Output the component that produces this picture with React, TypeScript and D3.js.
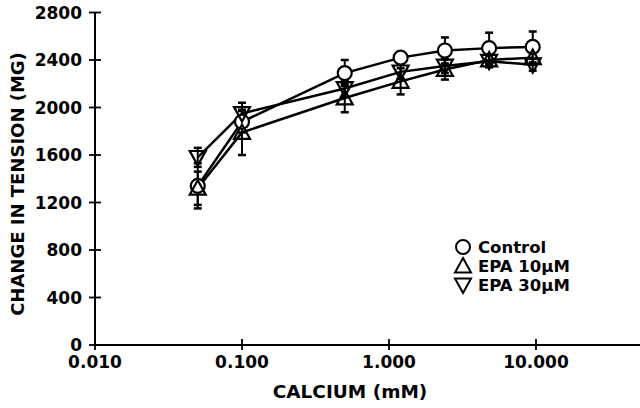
import * as d3 from 'd3'
import { useEffect, useRef } from 'react'

// calcium concentrations (mM) and mean tension (MG)
const calcium = [0.05, 0.1, 0.5, 1.2, 2.4, 4.8, 9.5]
const control = [1340, 1880, 2290, 2420, 2480, 2500, 2510]
const epa10 = [1320, 1790, 2080, 2220, 2320, 2400, 2420]
const epa30 = [1580, 1950, 2160, 2300, 2350, 2390, 2360]
// error bars (SEM)
const controlErr = [190, 90, 110, 40, 110, 130, 130]
const epa10Err = [140, 190, 120, 110, 85, 60, 60]
const epa30Err = [80, 90, 70, 60, 60, 50, 50]

const yTicks = [0, 400, 800, 1200, 1600, 2000, 2400, 2800]
const xTicks = [0.01, 0.1, 1, 10]

const series = [
  { name: 'Control', values: control, err: controlErr, shape: 'circle' },
  { name: 'EPA 10\u03bcM', values: epa10, err: epa10Err, shape: 'up' },
  { name: 'EPA 30\u03bcM', values: epa30, err: epa30Err, shape: 'down' },
]

const FONT = '"DejaVu Sans", sans-serif'

function markerPath(shape, cx, cy) {
  const s = 8
  if (shape === 'up') {
    return `M${cx},${cy - s} L${cx + s},${cy + s * 0.8} L${cx - s},${cy + s * 0.8} Z`
  }
  return `M${cx},${cy + s} L${cx + s},${cy - s * 0.8} L${cx - s},${cy - s * 0.8} Z`
}

const App = () => {
  const svgRef = useRef(null)

  useEffect(() => {
    const svg = d3.select(svgRef.current)
    svg.selectAll('*').remove()

    const x = d3.scaleLog().domain([0.01, 51]).range([95, 640])
    const y = d3.scaleLinear().domain([0, 2800]).range([345, 12.5])

    // axes
    const g = svg.append('g')
    g.append('line')
      .attr('x1', x(0.01)).attr('x2', 640)
      .attr('y1', y(0)).attr('y2', y(0))
      .attr('stroke', 'black').attr('stroke-width', 2)
    g.append('line')
      .attr('x1', x(0.01)).attr('x2', x(0.01))
      .attr('y1', y(0)).attr('y2', y(2800))
      .attr('stroke', 'black').attr('stroke-width', 2)

    g.selectAll('.yt')
      .data(yTicks)
      .enter()
      .append('line')
      .attr('x1', x(0.01) - 6).attr('x2', x(0.01) + 6)
      .attr('y1', (d) => y(d)).attr('y2', (d) => y(d))
      .attr('stroke', 'black').attr('stroke-width', 1.8)
    g.selectAll('.yl')
      .data(yTicks)
      .enter()
      .append('text')
      .attr('x', 82)
      .attr('y', (d) => y(d) + 6)
      .attr('text-anchor', 'end')
      .style('font-family', FONT).style('font-weight', 'bold').style('font-size', '17px')
      .text((d) => d)

    g.selectAll('.xt')
      .data(xTicks)
      .enter()
      .append('line')
      .attr('x1', (d) => x(d)).attr('x2', (d) => x(d))
      .attr('y1', y(0) - 6).attr('y2', y(0) + 5)
      .attr('stroke', 'black').attr('stroke-width', 1.8)
    g.selectAll('.xl')
      .data(xTicks)
      .enter()
      .append('text')
      .attr('x', (d) => x(d))
      .attr('y', 368)
      .attr('text-anchor', 'middle')
      .style('font-family', FONT).style('font-weight', 'bold').style('font-size', '17px')
      .text((d) => d3.format('.3f')(d))

    svg.append('text')
      .attr('x', 350).attr('y', 398)
      .attr('text-anchor', 'middle')
      .style('font-family', FONT).style('font-weight', 'bold').style('font-size', '18.5px')
      .text('CALCIUM (mM)')

    svg.append('text')
      .attr('transform', 'translate(24,184) rotate(-90)')
      .attr('text-anchor', 'middle')
      .style('font-family', FONT).style('font-weight', 'bold').style('font-size', '18px')
      .text('CHANGE IN TENSION (MG)')

    const line = d3.line()
      .x((d) => x(d[0]))
      .y((d) => y(d[1]))

    // lines
    series.forEach((s) => {
      svg.append('path')
        .datum(calcium.map((c, i) => [c, s.values[i]]))
        .attr('d', line)
        .attr('fill', 'none')
        .attr('stroke', 'black')
        .attr('stroke-width', 2.5)
    })

    // error bars
    series.forEach((s) => {
      const eg = svg.append('g')
      calcium.forEach((c, i) => {
        const cx = x(c)
        const lo = y(s.values[i] - s.err[i])
        const hi = y(s.values[i] + s.err[i])
        eg.append('line')
          .attr('x1', cx).attr('x2', cx).attr('y1', lo).attr('y2', hi)
          .attr('stroke', 'black').attr('stroke-width', 2)
        ;[lo, hi].forEach((yy) => {
          eg.append('line')
            .attr('x1', cx - 4).attr('x2', cx + 4).attr('y1', yy).attr('y2', yy)
            .attr('stroke', 'black').attr('stroke-width', 2.5)
        })
      })
    })

    // markers
    series.forEach((s) => {
      const mg = svg.append('g')
      calcium.forEach((c, i) => {
        const cx = x(c)
        const cy = y(s.values[i])
        if (s.shape === 'circle') {
          mg.append('circle')
            .attr('cx', cx).attr('cy', cy).attr('r', 7)
            .attr('fill', 'white').attr('stroke', 'black').attr('stroke-width', 2.2)
        } else {
          mg.append('path')
            .attr('d', markerPath(s.shape, cx, cy))
            .attr('fill', 'none').attr('stroke', 'black').attr('stroke-width', 2.2)
        }
      })
    })

    // legend
    const lg = svg.append('g')
    series.forEach((s, i) => {
      const cy = 247 + i * 19
      if (s.shape === 'circle') {
        lg.append('circle')
          .attr('cx', 463).attr('cy', cy).attr('r', 7)
          .attr('fill', 'white').attr('stroke', 'black').attr('stroke-width', 2)
      } else {
        lg.append('path')
          .attr('d', markerPath(s.shape, 463, cy))
          .attr('fill', 'none').attr('stroke', 'black').attr('stroke-width', 2)
      }
      lg.append('text')
        .attr('x', 478).attr('y', cy + 6)
        .style('font-family', FONT).style('font-weight', 'bold').style('font-size', '16.5px')
        .text(s.name)
    })
  }, [])

  return (
    <svg
      ref={svgRef}
      width="640"
      height="408"
      style={{ position: 'absolute', left: 0, top: 0, background: 'white' }}
    ></svg>
  )
}

export default App
